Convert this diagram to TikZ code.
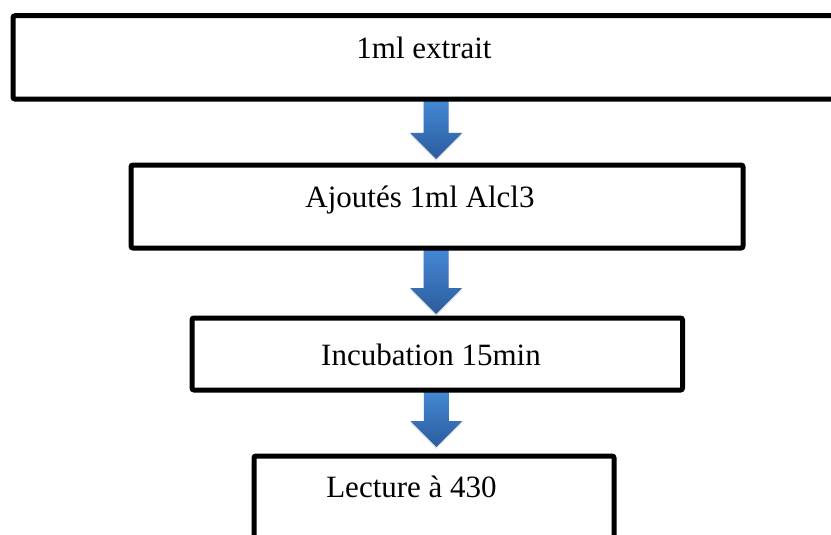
\documentclass[tikz,border=0pt]{standalone}
\usepackage{fontspec}
\setmainfont{Liberation Serif}
\usetikzlibrary{calc,shadows}
\definecolor{arrtop}{RGB}{68,136,212}
\definecolor{arrbot}{RGB}{44,92,158}
\tikzset{
  box/.style={draw=black, line width=5pt, rounded corners=2pt, inner sep=0pt, outer sep=0pt},
  lbl/.style={anchor=base, inner sep=0pt, font=\fontsize{31}{37}\selectfont},
  arrowfill/.style={top color=arrtop, bottom color=arrbot, draw=none,
    drop shadow={opacity=0.2, shadow xshift=0pt, shadow yshift=-2pt}}
}
\newcommand{\blockarrow}[3]{% from node, to node, gap above target
  \path[arrowfill] let \p1=(#1.south), \p2=(#2.north) in
    (\x1-13.5pt,\y1-1pt) -- (\x1+11.5pt,\y1-1pt) -- (\x1+11.5pt,\y2+#3+26pt)
    -- (\x1+25pt,\y2+#3+26pt) -- (\x1-1pt,\y2+#3) -- (\x1-27pt,\y2+#3+26pt)
    -- (\x1-13.5pt,\y2+#3+26pt) -- cycle;}
\begin{document}
\begin{tikzpicture}[x=1pt,y=-1pt]
\useasboundingbox (0,0) rectangle (831,535);
\clip (0,0) rectangle (831,535);
\fill[white] (0,0) rectangle (831,535);
% boxes (coordinates only for placement)
\node[box, draw=none, minimum width=848pt, minimum height=83.3pt] (b1) at (437,57.4) {};
\node[box, draw=none, minimum width=612pt, minimum height=83pt] (b2) at (437,206.5) {};
\node[box, draw=none, minimum width=490.5pt, minimum height=72pt] (b3) at (437.25,354) {};
\node[box, draw=none, minimum width=360pt, minimum height=164pt] (b4) at (434,538) {};
% arrows
\blockarrow{b1}{b2}{6pt}
\blockarrow{b2}{b3}{4pt}
\blockarrow{b3}{b4}{9pt}
% box outlines
\foreach \b in {b1,b2,b3,b4}{
  \draw[line width=5pt, rounded corners=2pt] (\b.north west) rectangle (\b.south east);
}
% labels
\node[lbl] (t1) at (424,59) {1ml extrait};
\node[lbl] (t2) at (420,207) {Ajoutés 1ml Alcl3};
\node[lbl] (t3) at (431,365) {Incubation 15min};
\node[lbl] (t4) at (411.5,497) {Lecture à 430};
\end{tikzpicture}
\end{document}
